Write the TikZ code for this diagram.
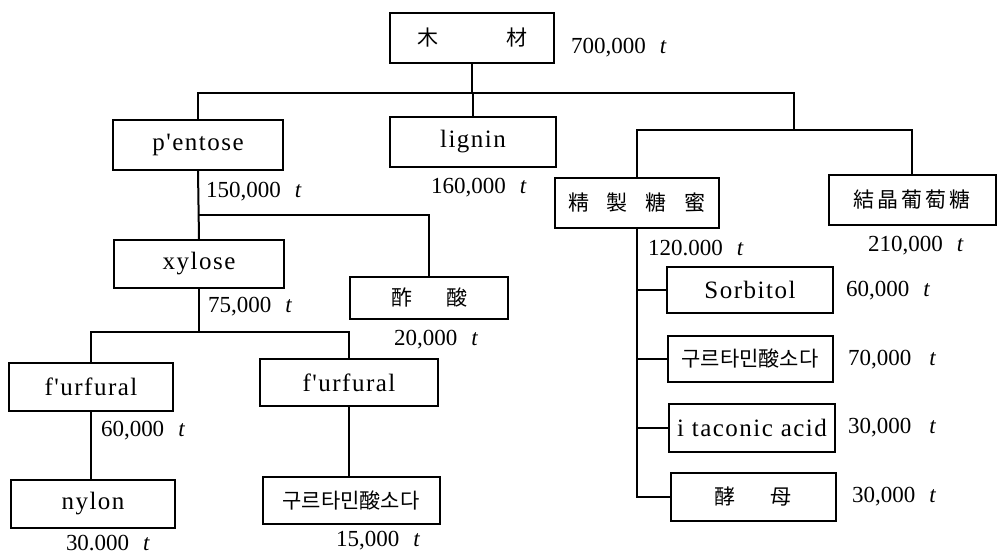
\documentclass[tikz,border=0pt]{standalone}
\usepackage{fontspec}
\setmainfont{Liberation Serif}
\newfontfamily\cjk{Noto Sans CJK KR}
\newfontfamily\spaced[LetterSpace=6]{Liberation Serif}
\begin{document}
\begin{tikzpicture}[x=0.5pt,y=-0.5pt,line width=1pt,
  box/.style={draw,line width=1pt,inner sep=0pt,font=\fontsize{12.5}{14}\selectfont},
  qty/.style={anchor=west,inner sep=0pt,font=\fontsize{11.5}{13}\selectfont},
  ck/.style={font=\fontsize{10.5}{12}\selectfont\cjk}]
\useasboundingbox[fill=white] (0,0) rectangle (998,555);
% boxes
\node[box,ck,minimum width=82pt,minimum height=25pt] (wood) at (472,38) {木\hspace{34pt}材};
\node[box,minimum width=85pt,minimum height=25pt] (pentose) at (198,145) {\spaced p'entose};
\node[box,minimum width=83pt,minimum height=25pt] (lignin) at (473,142) {\spaced lignin};
\node[box,ck,minimum width=82pt,minimum height=25pt] (seisei) at (637,203) {精\hspace{9pt}製\hspace{9pt}糖\hspace{9pt}蜜};
\node[box,ck,minimum width=83.5pt,minimum height=25pt] (kessho) at (912,200) {結\hspace{1.5pt}晶\hspace{1.5pt}葡\hspace{1.5pt}萄\hspace{1.5pt}糖};
\node[box,minimum width=85pt,minimum height=24pt] (xylose) at (199,264) {\spaced xylose};
\node[box,ck,minimum width=79pt,minimum height=21pt] (sakusan) at (429,298) {酢\hspace{17pt}酸};
\node[box,minimum width=82pt,minimum height=24pt] (furL) at (91,387) {\spaced f'urfural};
\node[box,minimum width=89pt,minimum height=23.5pt] (furR) at (349,383) {\spaced f'urfural};
\node[box,minimum width=82pt,minimum height=24pt] (nylon) at (93,504) {\spaced nylon};
\node[box,ck,minimum width=88.5pt,minimum height=23.5pt] (gluA) at (351,501) {구르타민酸소다};
\node[box,minimum width=83pt,minimum height=23pt] (sorb) at (750,290) {\spaced Sorbitol};
\node[box,ck,minimum width=82.5pt,minimum height=23pt] (gluB) at (750,359) {구르타민酸소다};
\node[box,minimum width=83pt,minimum height=24pt] (itac) at (752,428) {\spaced i taconic acid};
\node[box,ck,minimum width=82.5pt,minimum height=24pt] (koubo) at (753,497) {酵\hspace{18pt}母};
% quantities
\node[qty] (q1) at (570,48) {700,000\hspace{7pt}\textit{t}};
\node[qty] (q2) at (205,192) {150,000\hspace{7pt}\textit{t}};
\node[qty] (q3) at (430,188) {160,000\hspace{7pt}\textit{t}};
\node[qty] (q4) at (647,248) {120.000\hspace{7pt}\textit{t}};
\node[qty] (q5) at (867,246) {210,000\hspace{7pt}\textit{t}};
\node[qty] (q6) at (207,307) {75,000\hspace{7pt}\textit{t}};
\node[qty] (q7) at (393,340) {20,000\hspace{7pt}\textit{t}};
\node[qty] (q8) at (100,431) {60,000\hspace{7pt}\textit{t}};
\node[qty] (q9) at (65,543) {30.000\hspace{7pt}\textit{t}};
\node[qty] (q10) at (335,541) {15,000\hspace{7pt}\textit{t}};
\node[qty] (q11) at (845,291) {60,000\hspace{7pt}\textit{t}};
\node[qty] (q12) at (847,360) {70,000\hspace{9pt}\textit{t}};
\node[qty] (q13) at (847,428) {30,000\hspace{9pt}\textit{t}};
\node[qty] (q14) at (851,497) {30,000\hspace{7pt}\textit{t}};
% connectors
\coordinate (jL) at (198,93);
\coordinate (jR) at (794,93);
\coordinate (jR2) at (794,130);
\draw (pentose.north) -- (jL) -- (jR) -- (jR2);
\draw (wood.south) -- (wood.south |- jR);
\draw (lignin.north) -- (lignin.north |- jR);
\draw (seisei.north) |- (jR2) -| (kessho.north);
\coordinate (jP) at (198,215);
\draw (pentose.south) -- (xylose.north);
\draw (jP) -| (sakusan.north);
\coordinate (jX) at (199,332);
\draw (xylose.south) -- (jX);
\draw (furL.north) |- (jX) -| (furR.north);
\draw (furL.south) -- (furL.south |- nylon.north);
\draw (furR.south) -- (furR.south |- gluA.north);
\draw (seisei.south) |- (koubo.west);
\draw (sorb.west) -- (sorb.west -| seisei.south);
\draw (gluB.west) -- (gluB.west -| seisei.south);
\draw (itac.west) -- (itac.west -| seisei.south);
\end{tikzpicture}
\end{document}
